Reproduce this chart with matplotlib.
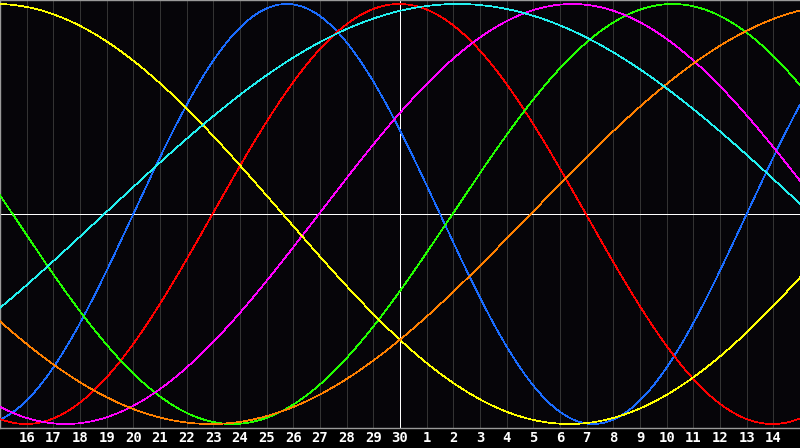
import numpy as np
import matplotlib
matplotlib.use('Agg')
import matplotlib.pyplot as plt

# day labels along the bottom (index 1..29), day 30 is "today"
day_labels = [16, 17, 18, 19, 20, 21, 22, 23, 24, 25, 26, 27, 28, 29, 30,
              1, 2, 3, 4, 5, 6, 7, 8, 9, 10, 11, 12, 13, 14]
today_index = 15

# cycles: length in days and the day index where each one crosses zero going up
cycle_periods = [23, 28, 33, 38, 43, 48, 53]
cycle_zero_up = [5.0, 7.97, 16.97, 11.96, -10.9, 19.9, 3.91]
cycle_colors = ['#1a6cff', '#ff0000', '#22ff00', '#ff00ff', '#ffff00', '#ff8000', '#22f0f0']

fig = plt.figure(figsize=(8, 4.48), dpi=100, facecolor='black')
ax = fig.add_axes([0, 20 / 448, 1, 428 / 448])
ax.set_facecolor('#060509')

t = np.linspace(0, 30, 1201)
for period, t0, color in zip(cycle_periods, cycle_zero_up, cycle_colors):
    ax.plot(t, np.sin(2 * np.pi * (t - t0) / period), color=color, lw=0.5,
            antialiased=False, zorder=3)

# grid
for i in range(1, 30):
    if i != today_index:
        ax.axvline(i, color='#333333', lw=0.5, antialiased=False, zorder=1)
ax.axvline(today_index, color='white', lw=0.5, antialiased=False, zorder=2)
ax.axhline(0, color='white', lw=0.5, antialiased=False, zorder=2)

ax.set_xlim(0, 30)
ax.set_ylim(-1.019, 1.019)
ax.set_yticks([])
ax.set_xticks(range(1, 30))
ax.set_xticklabels([str(d) for d in day_labels], color='white',
                   fontsize=10, fontweight='bold', family='DejaVu Sans Mono')
ax.tick_params(axis='x', length=0, pad=2)

for side in ['left', 'top', 'bottom']:
    ax.spines[side].set_color('#9a9a9a')
    ax.spines[side].set_linewidth(1.0)
ax.spines['right'].set_visible(False)

fig.savefig('out.png', dpi=100, facecolor='black')
